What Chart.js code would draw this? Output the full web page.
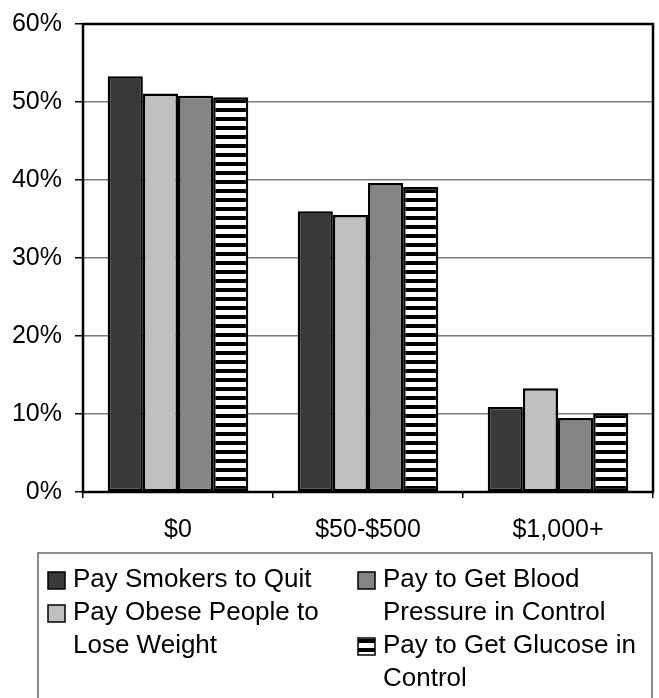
<!DOCTYPE html>
<html>
<head>
<meta charset="utf-8">
<script src="https://cdn.jsdelivr.net/npm/chart.js@4"></script>
<style>
    html, body { margin: 0; padding: 0; background: #fff; }
    canvas { display: block; }
</style>
</head>
<body>
<canvas id="payChart" width="659" height="698"></canvas>
<script>
// Chart data
const categories = ['$0', '$50-$500', '$1,000+'];
const seriesLabels = [
    'Pay Smokers to Quit',
    'Pay Obese People to Lose Weight',
    'Pay to Get Blood Pressure in Control',
    'Pay to Get Glucose in Control'
];
const smokers = [53.3, 36.0, 10.9];
const obese = [51.1, 35.5, 13.3];
const bloodPressure = [50.8, 39.6, 9.5];
const glucose = [50.6, 39.1, 10.1];
const yTicks = [0, 10, 20, 30, 40, 50, 60];

const FONT = 'Liberation Sans, Arial, sans-serif';

// horizontal stripe fill for the glucose series
function makeStripes() {
    const c = document.createElement('canvas');
    c.width = 8;
    c.height = 9;
    const g = c.getContext('2d');
    g.fillStyle = '#ffffff';
    g.fillRect(0, 0, 8, 9);
    g.fillStyle = '#000000';
    g.fillRect(0, 0, 8, 4);
    return g.createPattern(c, 'repeat');
}

const stripes = makeStripes();
const fills = ['#393939', '#c0c0c0', '#848484', stripes];
const values = [smokers, obese, bloodPressure, glucose];

// frame around the plot area
const frame = {
    id: 'frame',
    afterDatasetsDraw(chart) {
        const a = chart.chartArea;
        const ctx = chart.ctx;
        ctx.save();
        ctx.strokeStyle = '#000';
        ctx.lineWidth = 2.5;
        ctx.strokeRect(a.left, a.top, a.right - a.left, a.bottom - a.top);
        ctx.restore();
    }
};

function wrap(ctx, text, maxWidth) {
    const words = text.split(' ');
    const lines = [];
    let line = '';
    words.forEach(w => {
        const test = line ? line + ' ' + w : w;
        if (line && ctx.measureText(test).width > maxWidth) {
            lines.push(line);
            line = w;
        } else {
            line = test;
        }
    });
    if (line) lines.push(line);
    return lines;
}

// boxed two-column legend below the chart
const boxLegend = {
    id: 'boxLegend',
    afterDraw(chart) {
        const ctx = chart.ctx;
        ctx.save();
        ctx.strokeStyle = '#666';
        ctx.lineWidth = 1.5;
        ctx.strokeRect(38, 553, 614, 170);

        ctx.font = '26px ' + FONT;
        ctx.textBaseline = 'middle';
        ctx.fillStyle = '#000';
        const cols = [
            { boxX: 48, textX: 73, items: [0, 1] },
            { boxX: 358, textX: 383, items: [2, 3] }
        ];
        const lineHeight = 33;
        cols.forEach(col => {
            let y = 580;
            col.items.forEach(i => {
                const ds = chart.data.datasets[i];
                ctx.fillStyle = ds.backgroundColor;
                ctx.fillRect(col.boxX, y - 8, 17, 17);
                ctx.strokeStyle = '#000';
                ctx.lineWidth = 1.5;
                ctx.strokeRect(col.boxX, y - 8, 17, 17);
                ctx.fillStyle = '#000';
                wrap(ctx, ds.label, 275).forEach(l => {
                    ctx.fillText(l, col.textX, y);
                    y += lineHeight;
                });
            });
        });
        ctx.restore();
    }
};

const ctx = document.getElementById('payChart').getContext('2d');
new Chart(ctx, {
    type: 'bar',
    data: {
        labels: categories,
        datasets: seriesLabels.map((label, i) => ({
            label: label,
            data: values[i],
            backgroundColor: fills[i],
            borderColor: '#000',
            borderWidth: 2.5,
            borderSkipped: false,
            categoryPercentage: 0.74,
            barPercentage: 1.0
        }))
    },
    options: {
        responsive: false,
        animation: false,
        layout: {
            padding: { top: 24, right: 6, bottom: 156, left: 0 }
        },
        plugins: {
            legend: { display: false },
            tooltip: { enabled: false }
        },
        scales: {
            x: {
                grid: {
                    drawOnChartArea: false,
                    drawTicks: true,
                    tickLength: 6,
                    tickColor: '#000',
                    lineWidth: 1.5
                },
                border: { display: false },
                ticks: {
                    color: '#000',
                    padding: 17,
                    font: { family: FONT, size: 25 }
                },
                afterFit(scale) {
                    scale.height = 50;
                    scale.paddingLeft = 0;
                    scale.paddingRight = 0;
                }
            },
            y: {
                min: 0,
                max: 60,
                afterBuildTicks(scale) {
                    scale.ticks = yTicks.map(v => ({ value: v }));
                },
                grid: {
                    color: '#7a7a7a',
                    lineWidth: 1.5,
                    tickLength: 8,
                    tickColor: '#000'
                },
                border: { display: false },
                ticks: {
                    color: '#000',
                    padding: 13,
                    font: { family: FONT, size: 25 },
                    callback: v => v + '%'
                },
                afterFit(scale) {
                    scale.width = 83;
                    scale.paddingTop = 0;
                    scale.paddingBottom = 0;
                }
            }
        }
    },
    plugins: [frame, boxLegend]
});
</script>
</body>
</html>
